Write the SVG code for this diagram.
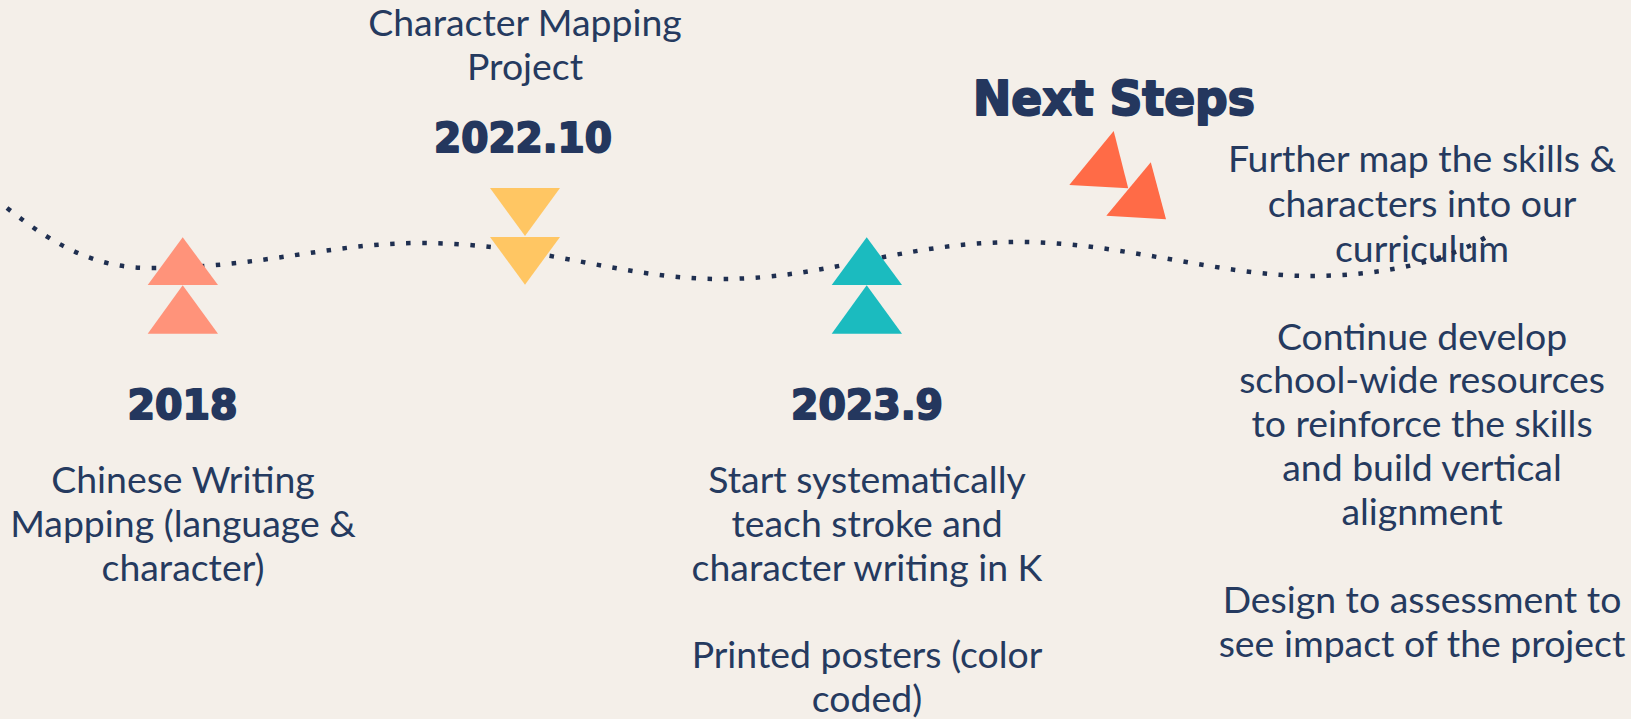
<svg xmlns="http://www.w3.org/2000/svg" width="1631" height="719" viewBox="0 0 1631 719">
<style>
.body{font-family:Lato,"Open Sans","Liberation Sans",sans-serif;font-size:37.4px;fill:#253A5F;text-anchor:middle}
.head{font-family:"DejaVu Sans","Liberation Sans",sans-serif;font-weight:bold;fill:#24375E;stroke:#24375E;stroke-width:2;stroke-linejoin:round;text-anchor:middle}
.dots{fill:none;stroke:#1F2F50;stroke-width:4.5;stroke-dasharray:4.5 11.5}
</style>
<rect width="1631" height="719" fill="#F4EFE9"/>
<g id="labels-2018">
<text class="head" x="182.5" y="418.5" font-size="41" textLength="110" lengthAdjust="spacingAndGlyphs">2018</text>
<text class="body" x="183" y="492.7">Chinese Writing</text>
<text class="body" x="183" y="536.7">Mapping (language &amp;</text>
<text class="body" x="183" y="580.7">character)</text>
</g>
<g id="labels-2022">
<text class="body" x="525" y="36">Character Mapping</text>
<text class="body" x="525" y="80">Project</text>
<text class="head" x="523" y="151.5" font-size="41" textLength="178" lengthAdjust="spacingAndGlyphs">2022.10</text>
</g>
<g id="labels-2023">
<text class="head" x="867" y="418.5" font-size="41" textLength="152" lengthAdjust="spacingAndGlyphs">2023.9</text>
<text class="body" x="867" y="492.7">Start systematically</text>
<text class="body" x="867" y="536.7">teach stroke and</text>
<text class="body" x="867" y="580.7">character writing in K</text>
<text class="body" x="867" y="668.3">Printed posters (color</text>
<text class="body" x="867" y="711.7">coded)</text>
</g>
<g id="labels-next">
<text class="head" x="1114" y="115" font-size="47.5" textLength="282" lengthAdjust="spacingAndGlyphs">Next Steps</text>
<text class="body" x="1422" y="171.7">Further map the skills &amp;</text>
<text class="body" x="1422" y="216.7">characters into our</text>
<text class="body" x="1422" y="261.7">curriculum</text>
<text class="body" x="1422" y="350">Continue develop</text>
<text class="body" x="1422" y="393">school-wide resources</text>
<text class="body" x="1422" y="437">to reinforce the skills</text>
<text class="body" x="1422" y="481">and build vertical</text>
<text class="body" x="1422" y="525">alignment</text>
<text class="body" x="1422" y="613">Design to assessment to</text>
<text class="body" x="1422" y="657">see impact of the project</text>
</g>
<g id="connectors">
<path class="dots" d="M7,208 C60,250 100,268 150,268 C260,268 330,243 420,243 C540,243 620,279 720,279 C830,279 900,242 1020,242 C1120,242 1220,276 1310,276 C1380,276 1450,262 1494,232"/>
</g>
<g id="node-2018" fill="#FF937A">
<polygon points="182.7,237.3 147.7,285 218,285"/>
<polygon points="182.7,285.3 147.7,333.7 218,333.7"/>
</g>
<g id="node-2022" fill="#FFC663">
<polygon points="490,188 560,188 525,236"/>
<polygon points="490,237 560,237 525,284.7"/>
</g>
<g id="node-2023" fill="#1BBBBF">
<polygon points="866.7,237.3 831.7,285 902,285"/>
<polygon points="866.7,285.3 831.7,333.7 902,333.7"/>
</g>
<g id="node-next" fill="#FF6B47">
<polygon points="1113.7,131 1069.3,185 1128.2,188.3"/>
<polygon points="1150.8,162.3 1106.3,215.7 1166,219.3"/>
</g>
</svg>
